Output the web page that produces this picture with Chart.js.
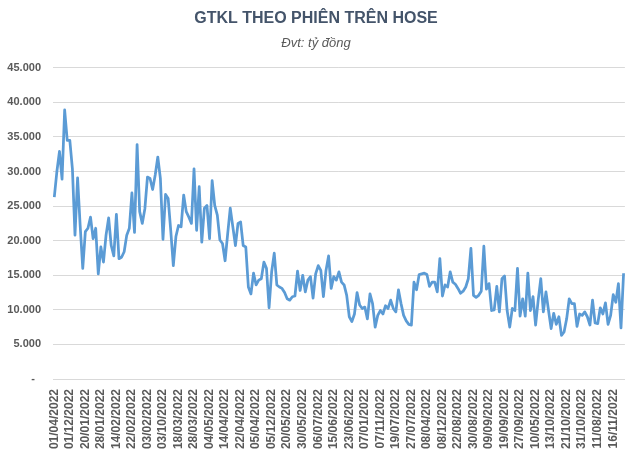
<!DOCTYPE html>
<html>
<head>
<meta charset="utf-8">
<script src="https://cdn.jsdelivr.net/npm/chart.js@4.4.0/dist/chart.umd.min.js"></script>
<style>
    html, body { margin: 0; padding: 0; background: #fff; }
    #wrap { width: 640px; height: 456px; }
</style>
</head>
<body>
<div id="wrap"><canvas id="hose-chart" width="640" height="456"></canvas></div>
<script>
// nhãn trục X (mỗi 6 phiên)
const tickLabels = [
    "01/04/2022", "01/12/2022", "20/01/2022", "28/01/2022", "14/02/2022", "22/02/2022",
    "03/02/2022", "03/10/2022", "18/03/2022", "28/03/2022", "04/05/2022", "14/04/2022",
    "22/04/2022", "05/04/2022", "05/12/2022", "20/05/2022", "30/05/2022", "06/07/2022",
    "15/06/2022", "23/06/2022", "07/01/2022", "07/11/2022", "19/07/2022", "27/07/2022",
    "08/04/2022", "08/12/2022", "22/08/2022", "30/08/2022", "09/09/2022", "19/09/2022",
    "27/09/2022", "10/05/2022", "13/10/2022", "21/10/2022", "31/10/2022", "11/08/2022",
    "16/11/2022",
];
const labelEvery = 6;

// GTKL theo phiên (tỷ đồng)
const sessionValues = [
    26300, 30000, 32900, 28900, 38900, 34500, 34500, 30400, 20800, 29100,
    22200, 16000, 21300, 21800, 23400, 20300, 21800, 15200, 19100, 16900,
    20800, 23300, 19300, 17800, 23800, 17400, 17600, 18400, 20800, 21800,
    26900, 21200, 33900, 24200, 22500, 24600, 29200, 29000, 27400, 29500,
    32100, 29000, 20200, 26700, 26100, 21500, 16400, 20600, 22200, 22000,
    26600, 24200, 23400, 22500, 30400, 21500, 27800, 19800, 24700, 25100,
    20300, 28700, 25100, 23700, 20100, 19600, 17100, 21000, 24700, 22000,
    19300, 22500, 22700, 19300, 19100, 13300, 12300, 15300, 13600, 14300,
    14500, 16900, 16000, 10300, 15500, 18200, 13600, 13300, 13100, 12500,
    11600, 11400, 11900, 12000, 15600, 12800, 15000, 12600, 14300, 14800,
    11700, 15200, 16400, 15700, 11900, 15700, 17800, 13100, 14800, 14300,
    15500, 14000, 13600, 12100, 9000, 8300, 9400, 12500, 10700, 10200,
    10400, 8700, 12300, 10900, 7500, 9200, 9900, 9400, 10600, 10200,
    11400, 10200, 9700, 12900, 10900, 9200, 8400, 7900, 7800, 14000,
    12900, 15100, 15200, 15300, 15100, 13400, 14000, 14000, 12600, 17400,
    12000, 13600, 13300, 15500, 14000, 13700, 13100, 12400, 12700, 13300,
    14500, 18900, 12100, 11800, 12100, 12700, 19200, 13000, 13800, 9900,
    10000, 13400, 9700, 14500, 14900, 9900, 7500, 10200, 9900, 16000,
    9100, 11600, 9100, 15300, 9900, 11900, 7800, 11400, 14500, 9700,
    12600, 9900, 7300, 9500, 7900, 9000, 6300, 6800, 8700, 11600,
    10900, 10900, 7600, 9400, 9200, 9700, 9000, 7800, 11400, 8100,
    8000, 10300, 9400, 11000, 7900, 9200, 12200, 11100, 13800, 7400,
    15300,
];

const categories = sessionValues.map((_, i) =>
    i % labelEvery === 0 ? tickLabels[i / labelEvery] || "" : ""
);

function formatVN(value) {
    if (value === 0) return "-  ";
    return String(value).replace(/\B(?=(\d{3})+(?!\d))/g, ".");
}

Chart.defaults.font.family = "'Liberation Sans', Arial, sans-serif";

const ctx = document.getElementById("hose-chart");

new Chart(ctx, {
    type: "line",
    data: {
        labels: categories,
        datasets: [
            {
                data: sessionValues,
                borderColor: "#5B9BD5",
                borderWidth: 2.75,
                borderJoinStyle: "round",
                pointRadius: 0,
                tension: 0,
                fill: false,
            },
        ],
    },
    options: {
        responsive: false,
        animation: false,
        layout: {
            padding: {
                top: 0,
                right: 8,
                bottom: 0,
                left: 0,
            },
        },
        scales: {
            x: {
                offset: true,
                grid: {
                    display: false,
                },
                border: {
                    display: true,
                    color: "#d9d9d9",
                    width: 1,
                },
                ticks: {
                    autoSkip: false,
                    minRotation: 90,
                    maxRotation: 90,
                    padding: 2,
                    color: "#595959",
                    font: {
                        size: 12,
                        weight: "bold",
                    },
                },
                afterFit: function (scale) {
                    scale.height = 77;
                },
            },
            y: {
                min: 0,
                max: 45000,
                grid: {
                    color: "#d9d9d9",
                    drawTicks: false,
                },
                border: {
                    display: false,
                },
                ticks: {
                    stepSize: 5000,
                    padding: 12,
                    color: "#595959",
                    font: {
                        size: 11,
                        weight: "bold",
                    },
                    callback: function (value) {
                        return formatVN(value);
                    },
                },
                afterFit: function (scale) {
                    scale.width = 53;
                },
            },
        },
        plugins: {
            legend: {
                display: false,
            },
            tooltip: {
                enabled: false,
            },
            title: {
                display: true,
                text: "GTKL THEO PHIÊN TRÊN HOSE",
                color: "#44546A",
                font: {
                    size: 16,
                    weight: "bold",
                },
                padding: {
                    top: 9,
                    bottom: 4,
                },
            },
            subtitle: {
                display: true,
                text: "Đvt: tỷ đồng",
                color: "#595959",
                font: {
                    size: 13,
                    style: "italic",
                },
                padding: {
                    top: 3,
                    bottom: 17,
                },
            },
        },
    },
});
</script>
</body>
</html>
